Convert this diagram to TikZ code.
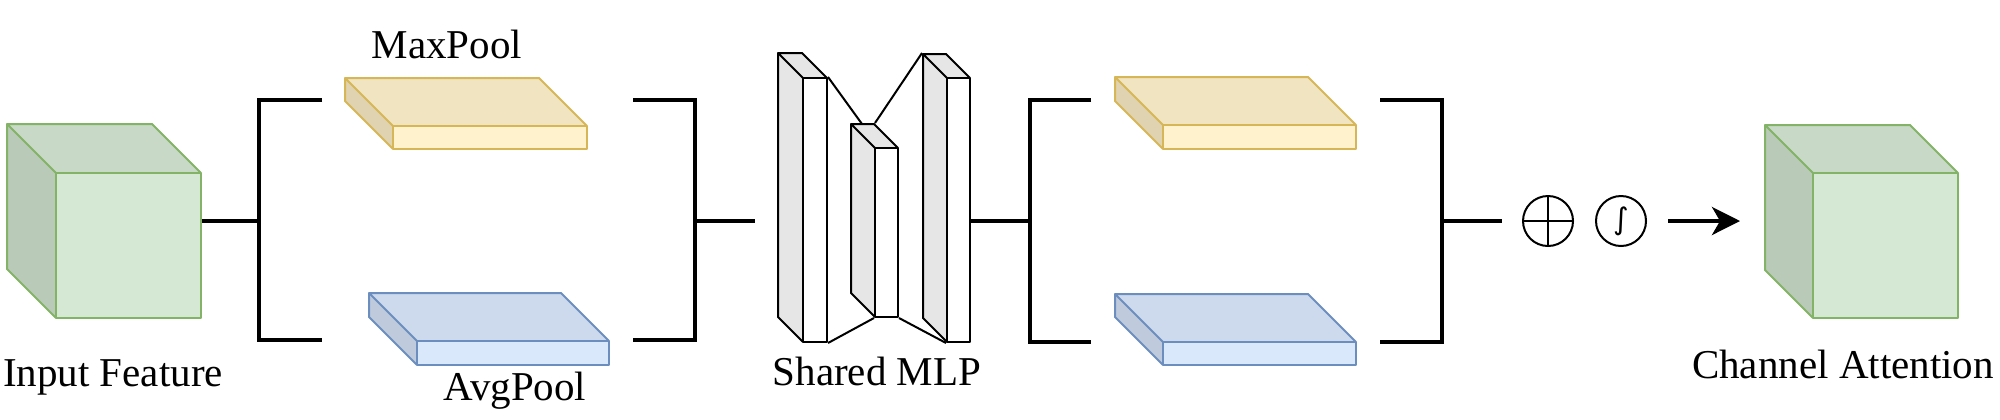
\documentclass[tikz,border=0pt]{standalone}
\usepackage{fontspec}
\setmainfont{Liberation Serif}
\newfontfamily\dvsans{DejaVu Sans}
\usetikzlibrary{fit,arrows.meta}
\definecolor{gF}{HTML}{D5E8D4}\definecolor{gT}{RGB}{200,218,199}\definecolor{gS}{RGB}{186,202,185}\definecolor{gD}{HTML}{82B366}
\definecolor{yF}{HTML}{FFF2CC}\definecolor{yT}{RGB}{241,228,193}\definecolor{yS}{RGB}{224,211,178}\definecolor{yD}{HTML}{D6B656}
\definecolor{bF}{HTML}{DAE8FC}\definecolor{bT}{RGB}{205,218,237}\definecolor{bS}{RGB}{191,203,220}\definecolor{bD}{HTML}{6C8EBF}
\definecolor{wF}{HTML}{FFFFFF}\definecolor{wT}{HTML}{E6E6E6}\definecolor{wS}{HTML}{E6E6E6}\definecolor{wD}{HTML}{000000}
\tikzset{
  facebox/.style={line width=1pt,line join=round},
  mlpline/.style={line width=1pt},
  bar/.style={line width=2pt,line join=miter},
  lbl/.style={anchor=base,inner sep=0pt,font=\fontsize{20.5}{24}\selectfont},
  opnode/.style={circle,draw,line width=1pt,minimum size=25pt,inner sep=0pt}
}
% #1 name, #2 x1, #3 y1, #4 x2, #5 y2 (front face), #6 depth, #7 colour prefix
\newcommand\isobox[7]{%
  \fill[#7T] (#2,#3) -- ({#2-#6},{#3-#6}) -- ({#4-#6},{#3-#6}) -- (#4,#3) -- cycle;
  \fill[#7S] (#2,#3) -- ({#2-#6},{#3-#6}) -- ({#2-#6},{#5-#6}) -- (#2,#5) -- cycle;
  \node[fit={(#2,#3) (#4,#5)},inner sep=0pt,draw=#7D,fill=#7F,facebox] (#1) {};
  \draw[#7D,facebox] (#2,#3) -- ({#2-#6},{#3-#6}) -- ({#4-#6},{#3-#6}) -- (#4,#3);
  \draw[#7D,facebox] ({#2-#6},{#3-#6}) -- ({#2-#6},{#5-#6}) -- (#2,#5);
}
\begin{document}
\begin{tikzpicture}[x=0.5pt,y=-0.5pt]
\useasboundingbox (0,0) rectangle (2000,419);
% cubes and slabs
\isobox{in}{56}{173}{201}{318}{49}{g}
\isobox{max1}{393}{126}{587}{149}{48}{y}
\isobox{avg1}{417}{341}{609}{365}{48}{b}
\isobox{mlpA}{803}{78}{827}{342}{25}{w}
\isobox{mlpB}{875}{148}{898}{317}{24}{w}
\isobox{mlpC}{947}{78}{970}{342}{24}{w}
\isobox{max2}{1163}{125}{1356}{149}{48}{y}
\isobox{avg2}{1163}{342}{1356}{365}{48}{b}
\isobox{out}{1813}{173}{1958}{318}{48}{g}
% MLP connections
\coordinate (mBtop) at (862,124);
\draw[mlpline] (mlpA.north east) -- (mBtop);
\draw[mlpline] ([shift={(-24,-24)}]mlpC.north west) -- ([shift={(-24,-24)}]mlpB.north east);
\draw[mlpline] (mlpA.south east) -- (mlpB.south west);
\draw[mlpline] (mlpB.south east) -- (mlpC.south west);
% labels
\node[lbl] (tin) at (113,386) {Input Feature};
\node[lbl] (tmax) at (447,58) {MaxPool};
\node[lbl] (tavg) at (515,400) {AvgPool};
\node[lbl] (tmlp) at (877,385) {Shared MLP};
\node[lbl] (tout) at (1843,378) {Channel Attention};
% brackets
\coordinate (L1) at (259,221);
\coordinate (l1t) at (322,100);
\coordinate (l1b) at (322,340);
\draw[bar] (in.east |- L1) -- (L1);
\draw[bar] (l1t) -| (L1) |- (l1b);
\coordinate (R1) at (695,221);
\coordinate (r1t) at (633,100);
\coordinate (r1b) at (633,340);
\coordinate (m1) at (755,221);
\draw[bar] (r1t) -| (R1) |- (r1b);
\draw[bar] (R1) -- (m1);
\coordinate (L2) at (1030,221);
\coordinate (l2t) at (1091,100);
\coordinate (l2b) at (1091,342);
\draw[bar] (mlpC.east |- L2) -- (L2);
\draw[bar] (l2t) -| (L2) |- (l2b);
\coordinate (R2) at (1442,221);
\coordinate (r2t) at (1380,100);
\coordinate (r2b) at (1380,342);
\coordinate (m2) at (1502,221);
\draw[bar] (r2t) -| (R2) |- (r2b);
\draw[bar] (R2) -- (m2);
% operators
\node[opnode] (plus) at (1548,221) {};
\draw[line width=1pt] (plus.north) -- (plus.south);
\draw[line width=1pt] (plus.west) -- (plus.east);
\node[opnode] (sig) at (1621,221) {\dvsans\fontsize{15}{15}\selectfont ∫};
\coordinate (a1) at (1668,221);
\coordinate (a2) at (1740,221);
\draw[bar,-{Stealth[length=14pt,width=14pt,inset=4pt]}] (a1) -- (a2);
\end{tikzpicture}
\end{document}
